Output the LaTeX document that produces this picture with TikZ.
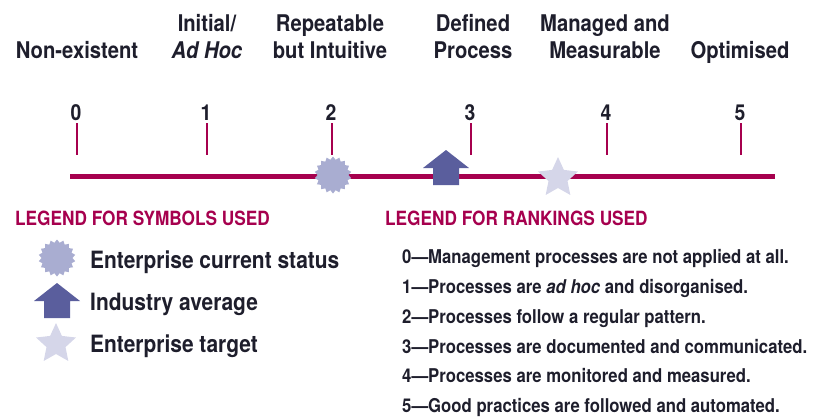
\documentclass[tikz,border=0pt]{standalone}
\usepackage{fontspec}
\setmainfont{TeX Gyre Heros}[FakeStretch=0.88]
\usetikzlibrary{shapes.geometric}

\definecolor{crimson}{HTML}{A6004E}
\definecolor{inkcol}{HTML}{1E1E2C}
\definecolor{suncol}{HTML}{A9ADD1}
\definecolor{avgcol}{HTML}{5A5E9D}
\definecolor{starcol}{HTML}{D5D6E9}

\tikzset{
  axisline/.style={draw=crimson,line width=5pt},
  tickmark/.style={draw=crimson,line width=2.2pt},
  toplab/.style={font=\fontsize{23}{27}\selectfont\bfseries,text=inkcol,align=center,anchor=south,inner sep=0pt,text depth=0pt},
  numlab/.style={font=\fontsize{22}{26}\selectfont\bfseries,text=inkcol,anchor=base,inner sep=0pt},
  heading/.style={font=\fontsize{19.6}{24}\selectfont\bfseries,text=crimson,anchor=base west,inner sep=0pt},
  legtext/.style={font=\fontsize{23.8}{28}\selectfont\bfseries,text=inkcol,anchor=base west,inner sep=0pt},
  ranktext/.style={font=\fontsize{19}{22}\selectfont\bfseries,text=inkcol,anchor=base west,inner sep=0pt},
  sunmark/.style={star,star points=18,star point ratio=1.2,fill=suncol,minimum size=37pt,inner sep=0pt},
  starmark/.style={star,star points=5,star point ratio=2.1,fill=starcol,minimum size=42pt,inner sep=0pt},
  pics/avgarrow/.style={code={
    \fill[avgcol] (0,-26) -- (23,-8) -- (13,-8) -- (13,9) -- (-13,9) -- (-13,-8) -- (-23,-8) -- cycle;}}
}

\begin{document}
\begin{tikzpicture}[x=1pt,y=-1pt]
  \useasboundingbox (0,0) rectangle (813,416);
  % level names
  \node[toplab] (l0) at (77,59)  {Non-existent};
  \node[toplab] (l1) at (207,59) {Initial/\\\textit{Ad Hoc}};
  \node[toplab] (l2) at (330,59) {Repeatable\\but Intuitive};
  \node[toplab] (l3) at (473,59) {Defined\\Process};
  \node[toplab] (l4) at (605,59) {Managed and\\Measurable};
  \node[toplab] (l5) at (740,59) {Optimised};
  % scale
  \coordinate (lstart) at (70,176);
  \coordinate (lend) at (775,176);
  \draw[axisline] (lstart) -- (lend);
  \foreach \x/\n in {77/0,207/1,332/2,471/3,607/4,741/5} {
    \node[numlab] (n\n) at (\x-1,120) {\n};
    \coordinate (t\n) at (\x,123);
    \draw[tickmark] (t\n) -- ++(0,32);
  }
  % positions
  \node[sunmark] (cur) at (333,175) {};
  \pic (avg) at (446,176) {avgarrow};
  \node[starmark] (tgt) at (558,178) {};
  % legend for symbols
  \node[heading] (hsym) at (15,225) {LEGEND FOR SYMBOLS USED};
  \node[sunmark] (lcur) at (57,258) {};
  \pic (lavg) at (57,309) {avgarrow};
  \node[starmark] (ltgt) at (56,344) {};
  \node[legtext] (tcur) at (90,268) {Enterprise current status};
  \node[legtext] (tavg) at (90,310) {Industry average};
  \node[legtext] (ttgt) at (90,352) {Enterprise target};
  % legend for rankings
  \node[heading] (hrank) at (385,225) {LEGEND FOR RANKINGS USED};
  \node[ranktext] (r0) at (402,263) {0---Management processes are not applied at all.};
  \node[ranktext] (r1) at (402,293) {1---Processes are \textit{ad hoc} and disorganised.};
  \node[ranktext] (r2) at (402,323) {2---Processes follow a regular pattern.};
  \node[ranktext] (r3) at (402,353) {3---Processes are documented and communicated.};
  \node[ranktext] (r4) at (402,382) {4---Processes are monitored and measured.};
  \node[ranktext] (r5) at (402,412) {5---Good practices are followed and automated.};
\end{tikzpicture}
\end{document}
